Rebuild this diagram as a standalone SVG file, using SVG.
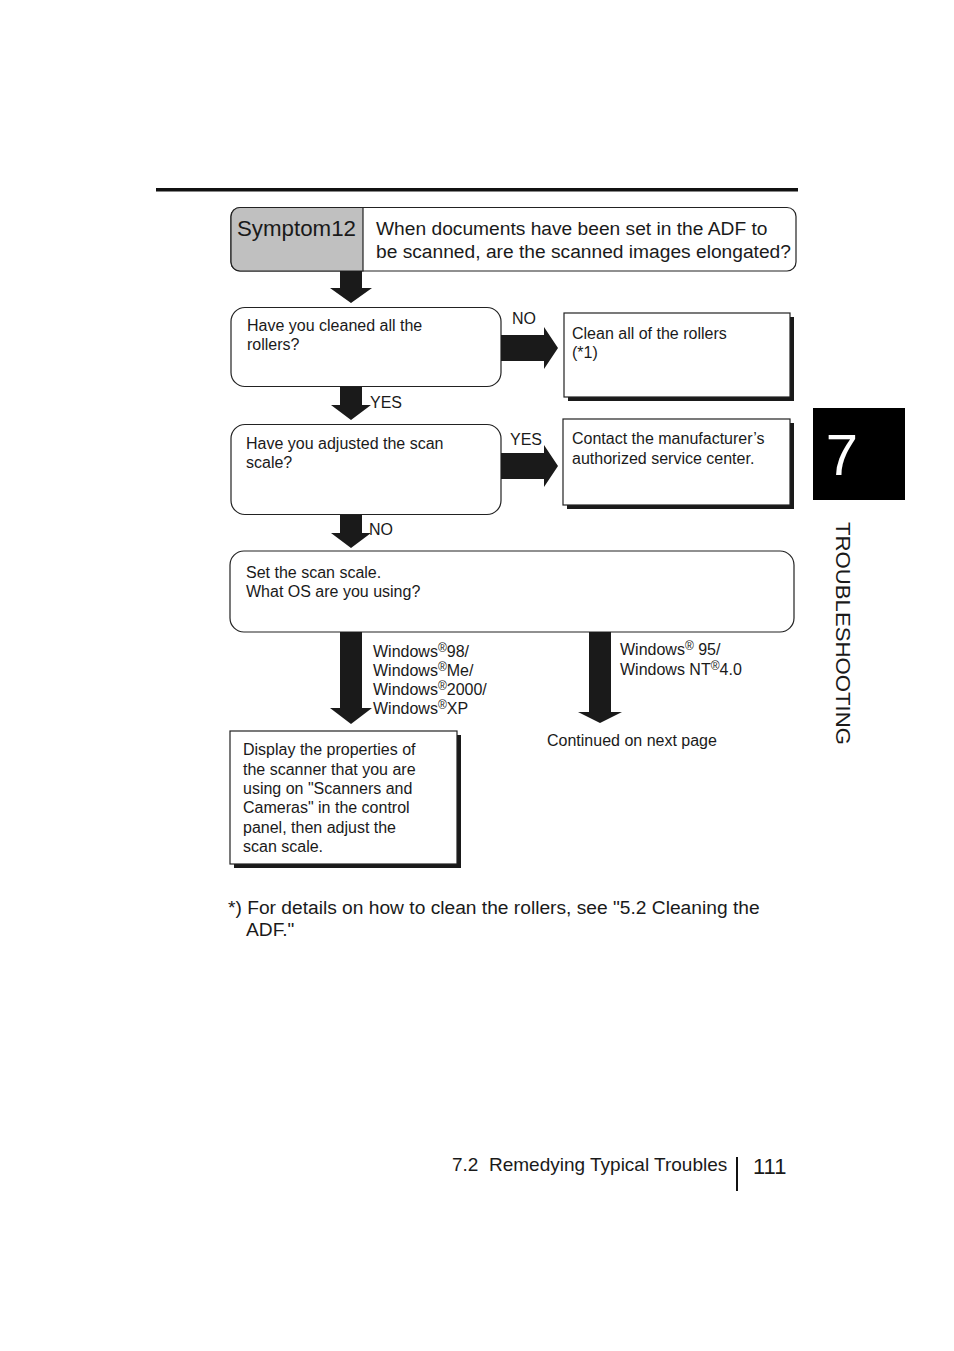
<svg xmlns="http://www.w3.org/2000/svg" width="954" height="1351" viewBox="0 0 954 1351">
<style>
text{font-family:"Liberation Sans",Arial,Helvetica,sans-serif;fill:#1a1a1a}
.t15{font-size:16px}
.t18{font-size:19.2px}
.box{fill:#fff;stroke:#222;stroke-width:1.2}
.shadow{fill:#1a1a1a}
.arr{fill:#1a1a1a}
.sup{font-size:12px}
</style>
<rect width="954" height="1351" fill="#fff"/>
<rect x="156" y="188" width="642" height="3.5" fill="#111"/>

<g id="symptom">
<rect class="box" x="231" y="207.5" width="565" height="63.5" rx="9"/>
<path d="M240,207.5 H363 V271 H240 A9,9 0 0 1 231,262 V216.5 A9,9 0 0 1 240,207.5 Z" fill="#c0c0c0" stroke="#222" stroke-width="1.2"/>
<text x="237" y="236" style="font-size:22.3px">Symptom12</text>
<text class="t18" x="376" y="235">When documents have been set in the ADF to</text>
<text class="t18" x="376" y="258">be scanned, are the scanned images elongated?</text>
</g>

<g id="q1">
<rect class="box" x="231" y="307.5" width="270" height="79" rx="14"/>
<text class="t15" x="247" y="331">Have you cleaned all the</text>
<text class="t15" x="247" y="350">rollers?</text>
</g>

<g id="a1">
<rect class="shadow" x="568" y="317" width="226" height="84"/>
<rect class="box" x="564" y="313" width="226" height="84"/>
<text class="t15" x="572" y="339">Clean all of the rollers</text>
<text class="t15" x="572" y="358">(*1)</text>
</g>

<g id="q2">
<rect class="box" x="231" y="424.5" width="270" height="90" rx="14"/>
<text class="t15" x="246" y="449">Have you adjusted the scan</text>
<text class="t15" x="246" y="468">scale?</text>
</g>

<g id="a2">
<rect class="shadow" x="567" y="423" width="227" height="86"/>
<rect class="box" x="563" y="419" width="227" height="86"/>
<text class="t15" x="572" y="444">Contact the manufacturer’s</text>
<text class="t15" x="572" y="464">authorized service center.</text>
</g>

<g id="q3">
<rect class="box" x="230" y="551" width="564" height="81" rx="14"/>
<text class="t15" x="246" y="578">Set the scan scale.</text>
<text class="t15" x="246" y="597">What OS are you using?</text>
</g>

<g id="a3">
<rect class="shadow" x="234" y="735" width="227" height="133"/>
<rect class="box" x="230" y="731" width="227" height="133"/>
<text class="t15" x="243" y="755">Display the properties of</text>
<text class="t15" x="243" y="775">the scanner that you are</text>
<text class="t15" x="243" y="794">using on "Scanners and</text>
<text class="t15" x="243" y="813">Cameras" in the control</text>
<text class="t15" x="243" y="833">panel, then adjust the</text>
<text class="t15" x="243" y="852">scan scale.</text>
</g>

<g id="continued">
<text class="t15" x="547" y="746">Continued on next page</text>
</g>

<g id="connectors">
<path class="arr" d="M340,271 H362 V288 H372 L351,303 L330,288 H340 Z"/>
<path class="arr" d="M340,387 H362 V405 H371 L351,420 L331,405 H340 Z"/>
<path class="arr" d="M340,515 H362 V533 H371 L351,548 L331,533 H340 Z"/>
<path class="arr" d="M340,632 H362 V708 H372 L351,724 L330,708 H340 Z"/>
<path class="arr" d="M589,632 H611 V712 H622 L600,723 L578,712 H589 Z"/>
<path class="arr" d="M501,335 H544 V327 L558,348 L544,369 V361 H501 Z"/>
<path class="arr" d="M501,453 H544 V445 L558,466 L544,487 V479 H501 Z"/>
<text class="t15" x="512" y="324">NO</text>
<text class="t15" x="370" y="408">YES</text>
<text class="t15" x="510" y="445">YES</text>
<text class="t15" x="369" y="535">NO</text>
<text class="t15" x="373" y="657">Windows<tspan class="sup" dy="-5">®</tspan><tspan dy="5">98/</tspan></text>
<text class="t15" x="373" y="676">Windows<tspan class="sup" dy="-5">®</tspan><tspan dy="5">Me/</tspan></text>
<text class="t15" x="373" y="695">Windows<tspan class="sup" dy="-5">®</tspan><tspan dy="5">2000/</tspan></text>
<text class="t15" x="373" y="714">Windows<tspan class="sup" dy="-5">®</tspan><tspan dy="5">XP</tspan></text>
<text class="t15" x="620" y="655">Windows<tspan class="sup" dy="-5">®</tspan><tspan dy="5"> 95/</tspan></text>
<text class="t15" x="620" y="675">Windows NT<tspan class="sup" dy="-5">®</tspan><tspan dy="5">4.0</tspan></text>
</g>

<g id="footnote">
<text class="t18" x="228" y="914">*) For details on how to clean the rollers, see "5.2 Cleaning the</text>
<text class="t18" x="246" y="936">ADF."</text>
</g>

<g id="tab">
<rect x="813" y="408" width="92" height="92" fill="#000"/>
<text x="842" y="475" text-anchor="middle" style="font-size:58px;fill:#fff">7</text>
<text transform="translate(836,522) rotate(90)" style="font-size:21px" textLength="223" lengthAdjust="spacingAndGlyphs">TROUBLESHOOTING</text>
</g>

<g id="footer">
<text x="452" y="1171" style="font-size:19px">7.2&#160; Remedying Typical Troubles</text>
<rect x="736" y="1157" width="2" height="34" fill="#111"/>
<text x="753" y="1174" style="font-size:22px">111</text>
</g>
</svg>
